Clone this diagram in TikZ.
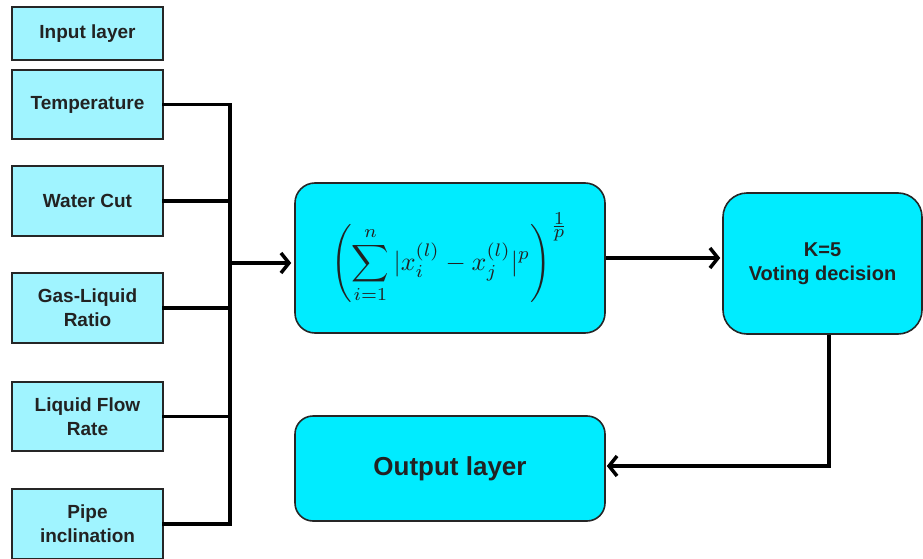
\documentclass[tikz,border=0pt]{standalone}
\usepackage{fontspec}
\setmainfont{Liberation Sans}
\usepackage{amsmath}
\usetikzlibrary{positioning, arrows.meta, calc}
\definecolor{inputcyan}{RGB}{160,244,255}
\definecolor{proccyan}{RGB}{0,236,255}
\definecolor{inktext}{RGB}{34,34,34}
\tikzset{
    inbox/.style={rectangle, draw=black!85, fill=inputcyan, line width=1.6pt, minimum width=151pt, minimum height=69pt, align=center, font=\fontsize{19}{24}\selectfont\bfseries, text=inktext},
    procbox/.style={rectangle, rounded corners=20pt, draw=black!85, fill=proccyan, line width=1.6pt, align=center, text=inktext},
    wire/.style={line width=3.5pt, line cap=rect, color=black},
    arr/.style={-{Straight Barb[length=8pt, width=20pt]}, line width=3.5pt, color=black}
}
\begin{document}
\begin{tikzpicture}[x=1pt, y=-1pt]
    \useasboundingbox (0,0) rectangle (923,559);
    % input layer
    \node[inbox, minimum height=53pt] at (87.5, 33.5) (inlayer) {Input layer};
    \node[inbox] at (87.5, 104.5) (temp) {Temperature};
    \node[inbox, minimum height=70pt] at (87.5, 201) (wcut) {Water Cut};
    \node[inbox, minimum height=70pt] at (87.5, 308) (glr) {Gas-Liquid\\Ratio};
    \node[inbox] at (87.5, 416.5) (lfr) {Liquid Flow\\Rate};
    \node[inbox, minimum height=70pt] at (87.5, 524) (pipe) {Pipe\\inclination};
    % processing
    \node[procbox, minimum width=310pt, minimum height=150pt, inner sep=0pt] at (450, 258) (dist)
        {\raisebox{-7pt}{\scalebox{2.6}{$\displaystyle\left(\sum_{i=1}^{n}|x_i^{(l)}-x_j^{(l)}|^{p}\right)^{\frac{\scriptstyle 1}{\scriptstyle p}}$}}};
    \node[procbox, rounded corners=24pt, minimum width=199pt, minimum height=141pt, font=\fontsize{20}{24}\selectfont\bfseries] at (822.5, 263.5) (vote) {K=5\\Voting decision};
    \node[procbox, rounded corners=18pt, minimum width=310pt, minimum height=105pt, font=\fontsize{26}{30}\selectfont\bfseries] at (450, 468.5) (out) {Output layer};
    % bus
    \coordinate (bustop) at (230, 104.5);
    \coordinate (busbot) at (230, 524);
    \coordinate (busmid) at (230, 263);
    \coordinate (bend) at (829, 466);
    \foreach \n in {temp, wcut, glr, lfr, pipe}
        \draw[wire] (\n.east) -- (\n.east -| bustop);
    \draw[wire] (bustop) -- (busbot);
    \draw[arr, shorten >=3pt] (busmid) -- (dist.west |- busmid);
    \draw[arr, shorten >=2pt] (dist.east) -- (dist.east -| vote.west);
    \draw[arr, shorten >=1pt] (vote.south -| bend) -- (bend) -- (out.east |- bend);
\end{tikzpicture}
\end{document}
